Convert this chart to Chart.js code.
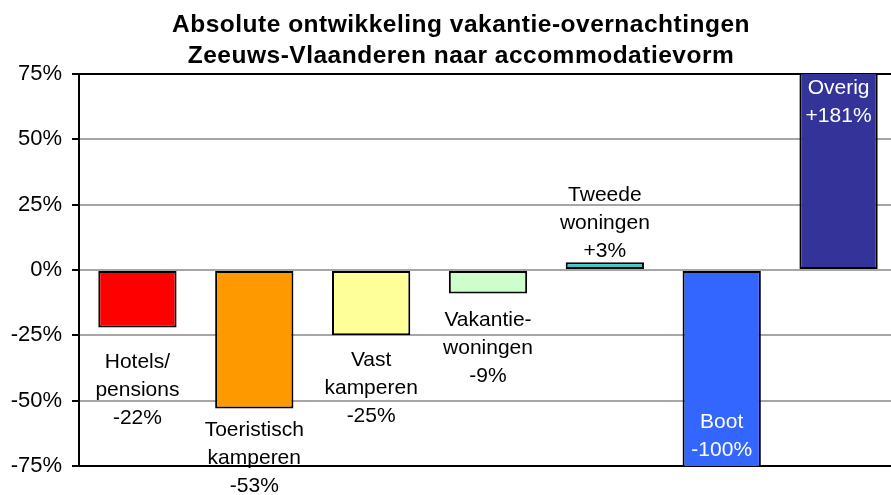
<!DOCTYPE html>
<html>
<head>
<meta charset="utf-8">
<script src="https://cdn.jsdelivr.net/npm/chart.js@4/dist/chart.umd.min.js"></script>
<style>
  html, body { margin: 0; padding: 0; background: #fff; overflow: hidden; }
  #wrap { width: 920px; height: 495px; }
</style>
</head>
<body>
<div id="wrap"><canvas id="chart"></canvas></div>
<script>
const titleLines = ['Absolute ontwikkeling vakantie-overnachtingen', 'Zeeuws-Vlaanderen naar accommodatievorm'];
const categories = ['Hotels/\npensions', 'Toeristisch\nkamperen', 'Vast\nkamperen', 'Vakantie-\nwoningen', 'Tweede\nwoningen', 'Boot', 'Overig'];
const values = [-22, -53, -25, -9, 3, -100, 181];
const yTicks = [-75, -50, -25, 0, 25, 50, 75];
const source = 'Bron: CBS';

const barColors = ['#FF0000', '#FF9900', '#FFFF99', '#CCFFCC', '#33CCCC', '#3366FF', '#333399'];
const FONT = "'Liberation Sans', Arial, sans-serif";

function fmt(v) {
    return (v > 0 ? '+' : '') + Math.round(v) + '%';
}

const barLabels = {
    id: 'barLabels',
    afterDatasetsDraw(chart, args, opts) {
        const ctx = chart.ctx;
        const area = chart.chartArea;
        const meta = chart.getDatasetMeta(0);
        ctx.save();
        ctx.font = '21px ' + FONT;
        ctx.textAlign = 'center';
        ctx.textBaseline = 'middle';
        meta.data.forEach((bar, i) => {
            const lines = categories[i].split('\n').concat(fmt(values[i]));
            const end = Math.min(Math.max(bar.y, area.top), area.bottom);
            const first = end + opts.offsets[i];
            ctx.fillStyle = opts.colors[i];
            lines.forEach((t, j) => ctx.fillText(t, bar.x, first + j * opts.lineHeight));
        });
        ctx.restore();
    }
};

const titleAndSource = {
    id: 'titleAndSource',
    afterDraw(chart) {
        const ctx = chart.ctx;
        ctx.save();
        ctx.fillStyle = '#000';
        ctx.textAlign = 'center';
        ctx.textBaseline = 'middle';
        ctx.font = 'bold 24.5px ' + FONT;
        ctx.letterSpacing = '0.5px';
        ctx.fillText(titleLines[0], 461, 25);
        ctx.fillText(titleLines[1], 461, 56);
        ctx.letterSpacing = '0px';
        ctx.font = '21px ' + FONT;
        ctx.textAlign = 'left';
        ctx.textBaseline = 'top';
        ctx.fillText(source, 785, 494);
        ctx.restore();
    }
};

new Chart(document.getElementById('chart').getContext('2d'), {
    type: 'bar',
    data: {
        labels: categories,
        datasets: [{
            data: values,
            backgroundColor: barColors,
            borderColor: '#000',
            borderWidth: 2,
            borderSkipped: false,
            categoryPercentage: 1,
            barPercentage: 0.67
        }]
    },
    options: {
        responsive: true,
        maintainAspectRatio: false,
        animation: false,
        events: [],
        layout: { padding: { left: 0, top: 74, right: 23, bottom: 29 } },
        plugins: {
            legend: { display: false },
            title: { display: false },
            tooltip: { enabled: false },
            barLabels: {
                offsets: [34.5, 21.5, 24.7, 26.5, -67, -44, 14],
                lineHeight: 28,
                colors: ['#000', '#000', '#000', '#000', '#000', '#fff', '#fff']
            }
        },
        scales: {
            x: { display: false },
            y: {
                min: -75,
                max: 75,
                afterBuildTicks: s => { s.ticks = yTicks.map(v => ({ value: v })); },
                afterFit: s => { s.width = 79; },
                ticks: {
                    callback: v => v + '%',
                    color: '#000',
                    padding: 10,
                    font: { family: FONT, size: 22 }
                },
                grid: {
                    color: c => (Math.abs(c.tick.value) === 75 ? '#000' : '#a6a6a6'),
                    lineWidth: 2,
                    tickLength: 7,
                    tickColor: '#000'
                },
                border: { color: '#000', width: 2 }
            }
        }
    },
    plugins: [barLabels, titleAndSource]
});
</script>
</body>
</html>
